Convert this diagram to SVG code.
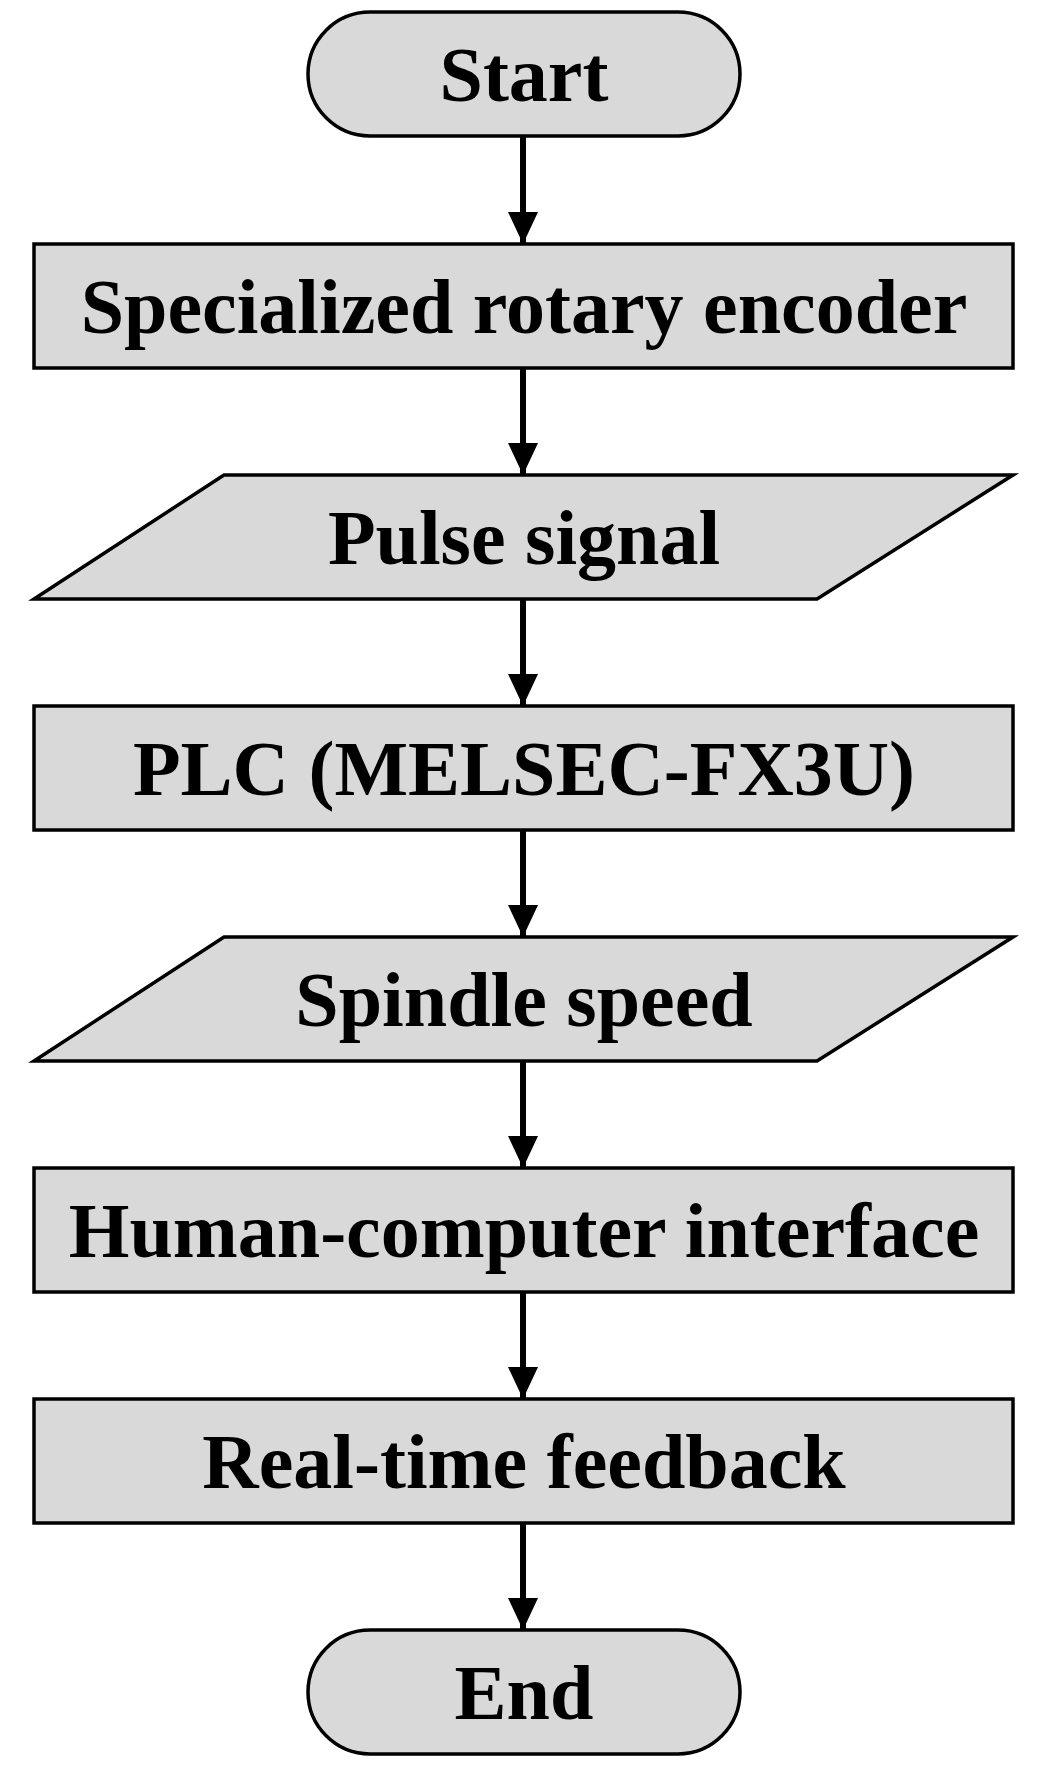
<svg xmlns="http://www.w3.org/2000/svg" width="1052" height="1770" viewBox="0 0 1052 1770">
<style>
.s{fill:#d9d9d9;stroke:#000;stroke-width:3.5}
.t{font-family:"Liberation Serif",serif;font-weight:bold;font-size:78px;text-anchor:middle;fill:#000}
.c{stroke:#000;stroke-width:6;fill:none;marker-end:url(#a)}
</style>
<defs><marker id="a" markerUnits="userSpaceOnUse" markerWidth="32" markerHeight="30" refX="32" refY="15" orient="auto" viewBox="0 0 32 30"><path d="M0,0 L32,15 L0,30 Z" fill="#000"/></marker></defs>
<rect width="1052" height="1770" fill="#fff"/>
<g id="connectors">
<line class="c" x1="523" y1="136" x2="523" y2="244"/>
<line class="c" x1="523" y1="368" x2="523" y2="475"/>
<line class="c" x1="523" y1="599" x2="523" y2="706"/>
<line class="c" x1="523" y1="830" x2="523" y2="937"/>
<line class="c" x1="523" y1="1061" x2="523" y2="1168"/>
<line class="c" x1="523" y1="1292" x2="523" y2="1399"/>
<line class="c" x1="523" y1="1523" x2="523" y2="1630"/>
</g>
<g id="start"><rect class="s" x="308" y="12" width="432" height="124" rx="62"/><text class="t" x="524" y="101">Start</text></g>
<g id="encoder"><rect class="s" x="34" y="244" width="979" height="124"/><text class="t" x="524" y="333">Specialized rotary encoder</text></g>
<g id="pulse"><polygon class="s" points="224,475 1013,475 817,599 34,599"/><text class="t" x="524" y="564">Pulse signal</text></g>
<g id="plc"><rect class="s" x="34" y="706" width="979" height="124"/><text class="t" x="524" y="795">PLC (MELSEC-FX3U)</text></g>
<g id="speed"><polygon class="s" points="224,937 1013,937 817,1061 34,1061"/><text class="t" x="524" y="1026">Spindle speed</text></g>
<g id="hci"><rect class="s" x="34" y="1168" width="979" height="124"/><text class="t" x="524" y="1257">Human-computer interface</text></g>
<g id="feedback"><rect class="s" x="34" y="1399" width="979" height="124"/><text class="t" x="524" y="1488">Real-time feedback</text></g>
<g id="end"><rect class="s" x="308" y="1630" width="432" height="124" rx="62"/><text class="t" x="524" y="1719">End</text></g>
</svg>
